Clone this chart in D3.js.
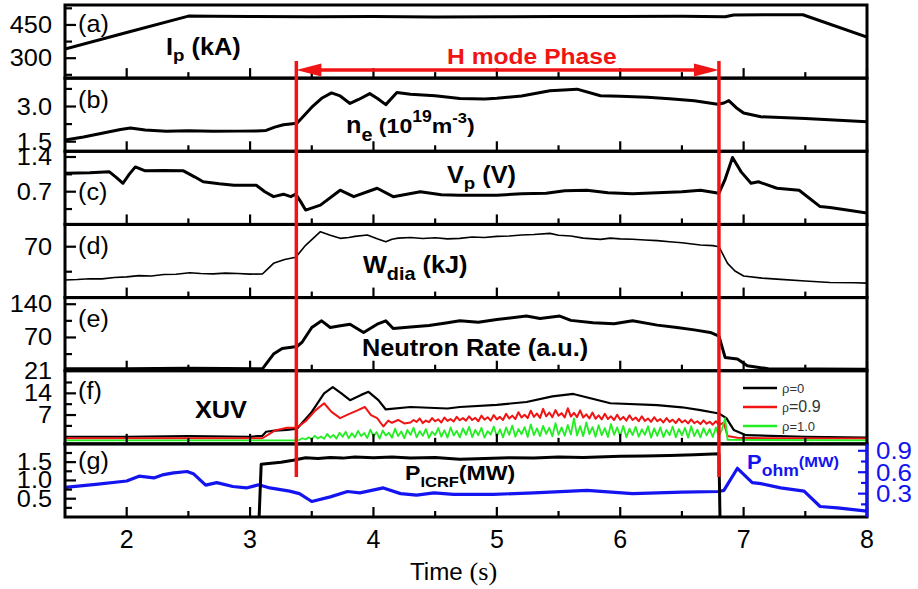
<!DOCTYPE html>
<html>
<head>
<meta charset="utf-8">
<script src="https://cdn.jsdelivr.net/npm/d3@7"></script>
<style>
  body { margin: 0; background: #fff; }
  text { font-family: "Liberation Sans", Arial, sans-serif; }
</style>
</head>
<body>
<svg id="chart"></svg>
<script>
// ---- data: [time (s), value] ----
const timeMajor = [2, 3, 4, 5, 6, 7, 8];
const timeMinor = [2.5, 3.5, 4.5, 5.5, 6.5, 7.5];
const hModeStart = 3.375, hModeEnd = 6.8;

const ipTicks = [300, 450];
const neTicks = [1.5, 3.0];
const vpTicks = [0.7, 1.4];
const wdiaTicks = [70];
const neutronTicks = [0, 70, 140];
const neutronTickLabels = ["21", "70", "140"];
const xuvTicks = [7, 14];
const icrfTicks = [0.5, 1.0, 1.5];
const ohmTicks = [0.3, 0.6, 0.9];

const ipData = [[1.5,341],[2.0,416],[2.5,490],[2.7,489],[3.0,488],[3.5,487],[4.0,488],[4.5,486],[5.0,487],[5.5,488],[6.0,488],[6.5,489],[6.85,487],[6.92,495],[7.2,496],[7.48,496],[8.0,395]];

const neData = [[1.5,1.57],[1.65,1.7],[1.8,1.86],[1.95,2.02],[2.03,2.08],[2.15,2.0],[2.32,1.94],[2.5,1.97],[2.7,1.94],[2.9,1.95],[3.05,1.96],[3.13,1.98],[3.2,2.12],[3.27,2.22],[3.38,2.29],[3.5,2.97],[3.58,3.35],[3.66,3.58],[3.73,3.45],[3.81,3.13],[3.88,3.3],[3.97,3.55],[4.03,3.35],[4.1,3.08],[4.19,3.6],[4.3,3.52],[4.5,3.46],[4.7,3.34],[4.9,3.32],[5.0,3.35],[5.2,3.45],[5.43,3.67],[5.65,3.74],[5.84,3.46],[6.0,3.44],[6.22,3.39],[6.4,3.33],[6.6,3.25],[6.79,3.1],[6.84,3.15],[6.88,3.25],[6.94,2.95],[7.0,2.72],[7.14,2.56],[7.5,2.49],[8.0,2.35]];

const vpData = [[1.5,1.07],[1.7,1.08],[1.86,1.1],[1.92,0.98],[1.97,0.87],[2.02,1.05],[2.07,1.2],[2.15,1.12],[2.3,1.13],[2.46,1.12],[2.55,1.0],[2.62,0.9],[2.75,0.86],[2.87,0.83],[3.05,0.83],[3.12,0.7],[3.19,0.6],[3.27,0.65],[3.33,0.6],[3.37,0.65],[3.41,0.5],[3.45,0.33],[3.57,0.43],[3.73,0.73],[3.84,0.6],[4.03,0.77],[4.16,0.6],[4.38,0.7],[4.55,0.64],[4.7,0.63],[5.0,0.63],[5.2,0.66],[5.4,0.67],[5.55,0.72],[5.73,0.73],[5.9,0.68],[6.1,0.66],[6.3,0.68],[6.5,0.7],[6.65,0.73],[6.8,0.67],[6.85,0.95],[6.91,1.39],[6.98,1.1],[7.06,0.87],[7.12,0.9],[7.27,0.77],[7.45,0.73],[7.62,0.4],[7.7,0.38],[7.81,0.34],[8.0,0.27]];

const wdiaData = [[1.5,23.4],[1.6,24],[1.7,25.2],[1.8,25],[1.9,27],[2.0,27.8],[2.1,29.5],[2.2,29],[2.3,31],[2.4,31.5],[2.51,33.6],[2.6,32.4],[2.7,32],[2.8,33],[2.9,32.5],[3.0,31.6],[3.1,31.8],[3.15,40],[3.19,46.7],[3.28,52],[3.37,55.2],[3.45,72],[3.57,91],[3.65,86],[3.73,81.7],[3.8,83],[3.85,84.5],[3.95,86.4],[4.03,81],[4.1,77],[4.15,80.5],[4.2,82],[4.3,83],[4.4,81.5],[4.5,82.5],[4.6,81],[4.7,81.7],[4.8,83.5],[4.9,83],[5.0,84.5],[5.1,85],[5.2,86.5],[5.3,87],[5.43,88.7],[5.5,86],[5.6,85],[5.7,82],[5.84,80.3],[5.92,82],[6.0,81],[6.1,80.5],[6.2,79.5],[6.3,78.5],[6.4,77],[6.5,75.5],[6.65,72.4],[6.75,71.5],[6.8,70],[6.87,46.7],[6.93,36],[7.0,29],[7.15,26],[7.3,24.3],[7.5,22],[7.7,20],[7.9,19.5],[8.0,19]];

const neutronData = [[1.5,4],[2.0,4],[2.5,5],[2.8,4.5],[3.1,4],[3.19,35],[3.26,47],[3.38,51],[3.42,59.5],[3.5,91],[3.58,105],[3.65,91],[3.72,94],[3.81,98],[3.92,80.5],[4.03,98],[4.1,105],[4.16,89],[4.3,92],[4.45,95],[4.6,101],[4.7,105],[4.85,102],[5.0,108],[5.24,115],[5.35,110],[5.51,115],[5.6,106],[5.78,101],[5.95,99],[6.1,105],[6.3,96],[6.46,91],[6.6,86],[6.73,80.5],[6.8,73],[6.85,28],[6.95,24.5],[7.03,10.5],[7.2,4],[8.0,3]];

const xuvRho0 = [[1.5,0],[2.0,0],[2.5,0.2],[3.0,0],[3.1,0.3],[3.13,1.6],[3.2,2],[3.3,2.2],[3.38,2.6],[3.5,8],[3.6,14],[3.67,16],[3.74,14],[3.81,11.8],[3.9,13.5],[3.96,14.5],[4.04,11.8],[4.1,8.8],[4.3,9.6],[4.6,9.1],[4.7,9.6],[5.0,10.3],[5.24,11.2],[5.45,13],[5.62,13.8],[5.75,12.5],[5.92,10.8],[6.3,10.2],[6.5,9.5],[6.65,8.6],[6.8,7.5],[6.86,6],[6.92,2.2],[7.02,0.5],[7.5,0],[8.0,-0.3]];

const xuvRho09 = [[1.5,-0.5],[3.1,-0.5],[3.2,2.0],[3.3,2.9],[3.38,3.0],[3.45,5],[3.53,8.5],[3.6,10.8],[3.66,8],[3.73,6],[3.8,7.3],[3.87,8.5],[3.93,9.6],[3.98,7],[4.03,6],[4.08,3.3],[4.12,5.2],[4.15,4.5],[4.2,5.4],[4.25,4.3],
  [4.3,4.6],[4.325,5.4],[4.35,4.8],[4.375,5.9],[4.4,4.4],[4.425,5.2],[4.45,4.7],[4.475,6.0],[4.5,5.0],[4.525,5.6],[4.55,4.6],[4.575,6.2],[4.6,5.1],[4.625,5.7],[4.65,4.9],[4.675,6.4],[4.7,5.3],[4.725,6.0],[4.75,5.2],[4.775,6.6],[4.8,5.4],[4.825,6.1],[4.85,5.0],[4.875,6.8],[4.9,5.5],[4.925,6.3],[4.95,5.2],[4.975,7.0],
  [5.0,5.6],[5.025,6.4],[5.05,5.4],[5.075,7.4],[5.1,5.9],[5.125,6.8],[5.15,5.7],[5.175,7.9],[5.2,6.2],[5.225,7.1],[5.25,6.0],[5.275,8.4],[5.3,6.4],[5.325,7.5],[5.35,6.1],[5.375,9.0],[5.4,6.6],[5.425,7.8],[5.45,6.3],[5.475,8.6],[5.5,6.8],[5.525,7.6],[5.55,6.2],[5.575,9.2],[5.6,6.5],[5.625,7.7],[5.65,6.3],[5.675,8.5],[5.7,6.2],[5.725,7.2],[5.75,5.9],[5.775,7.8],[5.8,5.8],[5.825,6.9],[5.85,5.6],[5.875,7.4],[5.9,5.7],[5.925,6.6],[5.95,5.4],[5.975,7.1],
  [6.0,5.5],[6.025,6.4],[6.05,5.2],[6.075,6.9],[6.1,5.4],[6.125,6.2],[6.15,5.0],[6.175,6.6],[6.2,5.1],[6.225,5.9],[6.25,4.8],[6.275,6.3],[6.3,5.0],[6.325,5.7],[6.35,4.6],[6.375,6.0],[6.4,4.8],[6.425,5.5],[6.45,4.4],[6.475,5.8],[6.5,4.6],[6.525,5.3],[6.55,4.3],[6.575,5.6],[6.6,4.4],[6.625,5.0],[6.65,4.1],[6.675,5.3],[6.7,4.2],[6.725,4.8],[6.75,3.9],[6.775,5.0],[6.8,3.8],[6.84,4.5],[6.87,0.2],[6.95,-0.3],[7.2,-0.5],[8.0,-0.6]];

const xuvRho1 = [[1.5,-1.2],[3.35,-1.2],
  [3.4,-1.0],[3.425,-0.5],[3.45,-0.9],[3.475,-0.2],[3.5,-0.8],[3.525,0.3],[3.55,-0.6],[3.575,0.1],[3.6,-0.7],[3.625,0.9],[3.65,-0.3],[3.675,0.6],[3.7,-0.6],[3.725,1.3],[3.75,0.0],[3.775,1.6],[3.8,-0.5],[3.825,1.1],[3.85,-0.2],[3.875,1.9],[3.9,0.2],[3.925,1.2],[3.95,-0.4],[3.975,2.3],
  [4.0,0.1],[4.025,1.5],[4.05,-0.6],[4.075,2.0],[4.1,0.4],[4.125,1.3],[4.15,-0.3],[4.175,2.6],[4.2,0.2],[4.225,1.7],[4.25,-0.5],[4.275,2.2],[4.3,0.6],[4.325,2.9],[4.35,-0.2],[4.375,1.8],[4.4,0.3],[4.425,2.5],[4.45,-0.4],[4.475,1.6],[4.5,0.5],[4.525,2.8],[4.55,0.0],[4.575,2.1],[4.6,-0.3],[4.625,3.0],[4.65,0.4],[4.675,1.9],[4.7,-0.2],[4.725,2.7],[4.75,0.6],[4.775,3.2],[4.8,-0.1],[4.825,2.2],[4.85,0.5],[4.875,2.9],[4.9,-0.3],[4.925,1.8],[4.95,0.7],[4.975,3.3],
  [5.0,0.1],[5.025,2.4],[5.05,-0.2],[5.075,3.0],[5.1,0.6],[5.125,3.6],[5.15,0.0],[5.175,2.5],[5.2,0.8],[5.225,3.1],[5.25,-0.1],[5.275,4.0],[5.3,0.5],[5.325,2.7],[5.35,0.2],[5.375,3.5],[5.4,0.9],[5.425,2.9],[5.45,0.1],[5.475,4.4],[5.5,0.6],[5.525,3.0],[5.55,0.3],[5.575,3.8],[5.6,0.7],[5.625,5.9],[5.65,0.4],[5.675,3.4],[5.7,0.2],[5.725,4.6],[5.75,0.8],[5.775,3.1],[5.8,0.0],[5.825,3.7],[5.85,0.5],[5.875,2.8],[5.9,-0.1],[5.925,4.1],[5.95,0.6],[5.975,3.0],
  [6.0,0.2],[6.025,3.5],[6.05,-0.2],[6.075,2.6],[6.1,0.5],[6.125,3.2],[6.15,0.0],[6.175,2.4],[6.2,0.6],[6.225,3.4],[6.25,-0.3],[6.275,2.7],[6.3,0.3],[6.325,3.0],[6.35,-0.1],[6.375,2.2],[6.4,0.5],[6.425,3.3],[6.45,-0.2],[6.475,2.5],[6.5,0.4],[6.525,2.9],[6.55,-0.3],[6.575,3.4],[6.6,0.2],[6.625,2.3],[6.65,-0.2],[6.675,2.8],[6.7,0.4],[6.725,2.5],[6.75,-0.1],[6.775,3.0],[6.8,0.2],[6.825,2.4],[6.85,6.0],[6.87,-1.0],[8.0,-1.2]];

const icrfData = [[1.5,-0.3],[3.07,-0.3],[3.09,1.44],[3.15,1.46],[3.25,1.5],[3.35,1.55],[3.45,1.62],[3.55,1.6],[3.65,1.63],[3.75,1.61],[3.85,1.64],[4.0,1.62],[4.15,1.64],[4.3,1.61],[4.5,1.63],[4.7,1.58],[4.9,1.6],[5.1,1.62],[5.3,1.61],[5.5,1.64],[5.7,1.63],[6.0,1.66],[6.2,1.67],[6.4,1.68],[6.6,1.7],[6.8,1.73],[6.81,-0.3],[8.0,-0.3]];

const ohmData = [[1.5,0.388],[1.75,0.43],[2.0,0.477],[2.1,0.544],[2.22,0.52],[2.3,0.567],[2.38,0.59],[2.49,0.61],[2.54,0.58],[2.64,0.42],[2.73,0.455],[2.86,0.4],[2.97,0.38],[3.07,0.424],[3.16,0.38],[3.32,0.335],[3.4,0.3],[3.5,0.19],[3.65,0.255],[3.79,0.33],[3.89,0.31],[4.08,0.38],[4.22,0.3],[4.35,0.28],[4.49,0.31],[4.65,0.29],[4.97,0.29],[5.3,0.31],[5.73,0.345],[6.1,0.3],[6.5,0.32],[6.8,0.33],[6.84,0.345],[6.95,0.655],[7.07,0.455],[7.14,0.44],[7.3,0.38],[7.49,0.335],[7.62,0.12],[7.76,0.1],[8.0,0.055]];

// ---- layout ----
const W = 918, H = 589;
const plotLeft = 65, plotRight = 867, plotTop = 5, plotBottom = 517;
const ph = (plotBottom - plotTop) / 7;
const RED = "#f01414", BLUE = "#1414f0", GREEN = "#22ee22";

const x = d3.scaleLinear().domain([1.5, 8]).range([plotLeft, plotRight]);

const svg = d3.select("#chart").attr("width", W).attr("height", H);
svg.append("rect").attr("width", W).attr("height", H).attr("fill", "#fff");

const panels = [
  { id: "a", dom: [210, 540], major: ipTicks, minor: [225, 375, 525], letterY: 25 },
  { id: "b", dom: [1.09, 4.21], major: neTicks, minor: [2.25, 3.75], letterY: 101 },
  { id: "c", dom: [0.04, 1.515], major: vpTicks, minor: [0.35, 1.05], letterY: 193 },
  { id: "d", dom: [-1.2, 101.2], major: wdiaTicks, minor: [35], letterY: 247 },
  { id: "e", dom: [0, 154], major: neutronTicks, minor: [35, 105], labels: neutronTickLabels, letterY: 320 },
  { id: "f", dom: [-2.3, 21.3], major: xuvTicks, minor: [3.5, 10.5, 17.5], letterY: 392 },
  { id: "g", dom: [0, 2.0], major: icrfTicks, minor: [0.25, 0.75, 1.25, 1.75], letterY: 462 }
];
panels.forEach((p, i) => {
  p.y0 = plotTop + i * ph;
  p.y = d3.scaleLinear().domain(p.dom).range([p.y0 + ph, p.y0]);
  svg.append("clipPath").attr("id", "clip-" + p.id)
    .append("rect").attr("x", plotLeft).attr("y", p.y0).attr("width", plotRight - plotLeft).attr("height", ph);
});
const P = {};
panels.forEach(p => P[p.id] = p);
const yOhm = d3.scaleLinear().domain([-0.027, 0.997]).range([P.g.y0 + ph, P.g.y0]);

function drawLine(p, data, color, width, yScale) {
  const ys = yScale || p.y;
  svg.append("path").datum(data)
    .attr("clip-path", `url(#clip-${p.id})`)
    .attr("fill", "none")
    .attr("stroke", color)
    .attr("stroke-width", width)
    .attr("stroke-linejoin", "round")
    .attr("d", d3.line().x(d => x(d[0])).y(d => ys(d[1])));
}

function txt(px, py, size, opts = {}) {
  return svg.append("text")
    .attr("transform", `translate(${px},${py}) scale(${opts.sx || 1.1},1)`)
    .attr("font-size", size)
    .attr("font-weight", opts.bold ? "bold" : "normal")
    .attr("fill", opts.color || "#000")
    .attr("text-anchor", opts.anchor || "start");
}
function rich(t, parts) {
  parts.forEach(([s, size, dy, family]) => {
    const sp = t.append("tspan").attr("font-size", size).attr("dy", dy || 0).text(s);
    if (family) sp.attr("font-family", family);
  });
  return t;
}

// ---- series ----
drawLine(P.a, ipData, "#000", 3);
drawLine(P.b, neData, "#000", 3);
drawLine(P.c, vpData, "#000", 3);
drawLine(P.d, wdiaData, "#000", 1.6);
drawLine(P.e, neutronData, "#000", 3);
drawLine(P.f, xuvRho0, "#000", 2.2);
drawLine(P.f, xuvRho09, RED, 2);
drawLine(P.f, xuvRho1, GREEN, 1.8);
drawLine(P.g, ohmData, BLUE, 3.2, yOhm);
drawLine(P.g, icrfData, "#000", 3);

// ---- frames and ticks ----
panels.forEach(p => {
  const yb = p.y0 + ph;
  // bottom ticks pointing up
  timeMajor.forEach(t => svg.append("line").attr("x1", x(t)).attr("x2", x(t))
    .attr("y1", yb).attr("y2", yb - 10).attr("stroke", "#000").attr("stroke-width", 2.2));
  timeMinor.forEach(t => svg.append("line").attr("x1", x(t)).attr("x2", x(t))
    .attr("y1", yb).attr("y2", yb - 6).attr("stroke", "#000").attr("stroke-width", 2.2));
  // left ticks pointing right
  p.major.forEach((v, k) => {
    const yy = p.y(v);
    svg.append("line").attr("x1", plotLeft).attr("x2", plotLeft + 11).attr("y1", yy).attr("y2", yy)
      .attr("stroke", "#000").attr("stroke-width", 2.2);
    txt(52, yy + 8, 23, { anchor: "end", sx: 1.1 }).text(p.labels ? p.labels[k] : v.toFixed(v % 1 === 0 && v >= 7 ? 0 : 1));
  });
  p.minor.forEach(v => svg.append("line").attr("x1", plotLeft).attr("x2", plotLeft + 7)
    .attr("y1", p.y(v)).attr("y2", p.y(v)).attr("stroke", "#000").attr("stroke-width", 2.2));
  // panel letter
  txt(78, p.letterY + 6.5, 24, { sx: 1.05 }).text(`(${p.id})`);
});

// right axis of panel (g)
ohmTicks.forEach(v => {
  svg.append("line").attr("x1", plotRight).attr("x2", plotRight - 9).attr("y1", yOhm(v)).attr("y2", yOhm(v))
    .attr("stroke", BLUE).attr("stroke-width", 2.2);
  txt(876, yOhm(v) + 8.5, 24, { color: BLUE, sx: 1.08 }).text(v.toFixed(1));
});
[0.15, 0.45, 0.75].forEach(v => svg.append("line").attr("x1", plotRight).attr("x2", plotRight - 6)
  .attr("y1", yOhm(v)).attr("y2", yOhm(v)).attr("stroke", BLUE).attr("stroke-width", 2.2));

// panel outlines
panels.forEach(p => {
  svg.append("rect").attr("x", plotLeft).attr("y", p.y0).attr("width", plotRight - plotLeft).attr("height", ph)
    .attr("fill", "none").attr("stroke", "#000").attr("stroke-width", 3);
});
svg.append("line").attr("x1", plotRight).attr("x2", plotRight).attr("y1", P.g.y0).attr("y2", plotBottom)
  .attr("stroke", BLUE).attr("stroke-width", 3);

// bottom axis labels
timeMajor.forEach(t => txt(x(t), 548, 25, { anchor: "middle", sx: 1.0 }).text(t));
rich(txt(410, 580, 23, { sx: 1.05 }), [["Time ", 23, 0], ["(s)", 25, 0, "Liberation Serif, serif"]]);

// ---- quantity labels ----
rich(txt(166, 55, 23, { bold: true }), [["I", 23, 0], ["p", 17, 6], [" (kA)", 23, -6]]);
rich(txt(346, 133, 22, { bold: true }), [["n", 23, 0], ["e", 18, 8], [" (10", 21, -8], ["19", 16, -11], ["m", 21, 11], ["-3", 15, -10], [")", 21, 10]]);
rich(txt(447, 183, 23, { bold: true }), [["V", 23, 0], ["p", 17, 6], [" (V)", 23, -6]]);
rich(txt(363, 273, 23, { bold: true }), [["W", 23, 0], ["dia", 18, 7], [" (kJ)", 23, -7]]);
txt(362, 356, 23, { bold: true }).text("Neutron Rate (a.u.)");
txt(195, 418, 23, { bold: true }).text("XUV");
rich(txt(405, 480, 21, { bold: true }), [["P", 21, 0], ["ICRF", 15, 7], ["(MW)", 21, -7]]);
rich(txt(747, 469, 19, { bold: true, color: BLUE }), [["P", 20, 0], ["ohm", 16, 7], ["(MW)", 15, -9]]);

// legend in panel (f)
const legend = [["ρ=0", "#000", 388], ["ρ=0.9", RED, 407], ["ρ=1.0", GREEN, 426]];
legend.forEach(([name, c, ly], k) => {
  svg.append("line").attr("x1", 743).attr("x2", 777).attr("y1", ly).attr("y2", ly)
    .attr("stroke", c).attr("stroke-width", 2.5);
  const t = txt(782, ly + 4.5, 13, { sx: 1.0 }).attr("fill", "#333");
  if (k === 1) rich(t, [["ρ", 14, 0, "Liberation Serif, serif"], ["=0.9", 16, 0]]);
  else t.attr("font-family", "Liberation Serif, serif").text(name);
});

// ---- H mode annotation ----
const xs = x(hModeStart), xe = x(hModeEnd);
[xs, xe].forEach(xx => svg.append("line").attr("x1", xx).attr("x2", xx).attr("y1", 61).attr("y2", 477)
  .attr("stroke", RED).attr("stroke-width", 3.5));
svg.append("line").attr("x1", xs + 20).attr("x2", xe - 20).attr("y1", 70).attr("y2", 70)
  .attr("stroke", RED).attr("stroke-width", 3.5);
svg.append("path").attr("fill", RED)
  .attr("d", `M${xs},70 L${xs + 25},63.5 L${xs + 25},76.5 Z`);
svg.append("path").attr("fill", RED)
  .attr("d", `M${xe},70 L${xe - 25},63.5 L${xe - 25},76.5 Z`);
txt(447, 64, 22, { bold: true, color: RED, sx: 1.12 }).text("H mode Phase");
</script>
</body>
</html>
